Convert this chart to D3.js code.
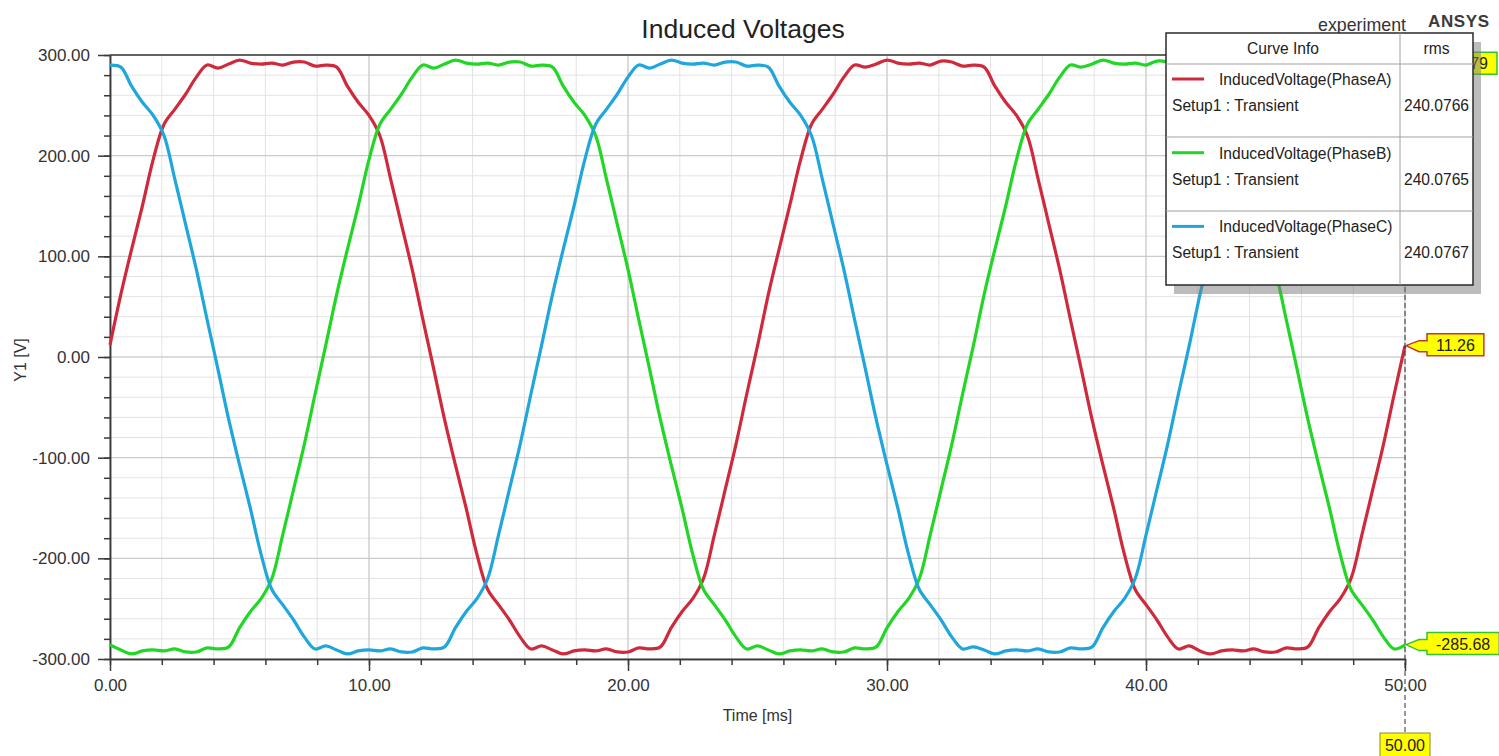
<!DOCTYPE html>
<html>
<head>
<meta charset="utf-8">
<script src="https://cdn.jsdelivr.net/npm/d3@7"></script>
<style>
  html, body { margin: 0; padding: 0; background: #fff; }
  svg { display: block; font-family: "Liberation Sans", Arial, sans-serif; }
</style>
</head>
<body>
<svg id="chart" width="1499" height="756"></svg>
<script>
// ---------- data ----------
const timeMs = d3.range(0, 121).map(i => i * 50 / 120); // sample instants, 0 .. 50 ms

const phaseA = [
  12, 62, 107, 150, 196, 231, 246, 261, 278, 290, 287, 291, 295, 292, 291, 292, 290, 293, 293, 289, 290, 288, 269, 253, 240, 220, 177, 132, 87, 37,
  -12, -62, -107, -150, -196, -231, -246, -261, -278, -290, -287, -291, -295, -292, -291, -292, -290, -293, -293, -289, -290, -288, -269, -253, -240, -220, -177, -132, -87, -37,
  11, 62, 107, 151, 196, 231, 246, 261, 278, 290, 288, 291, 295, 292, 291, 292, 290, 294, 293, 289, 290, 288, 269, 253, 240, 220, 177, 132, 87, 37,
  -12, -62, -107, -150, -196, -231, -246, -261, -278, -290, -287, -292, -295, -292, -291, -292, -290, -293, -293, -289, -290, -288, -269, -253, -240, -220, -177, -132, -87, -37,
  11
];
const phaseB = [
  -286, -291, -295, -292, -291, -292, -290, -293, -293, -289, -290, -288, -269, -253, -240, -220, -177, -132, -87, -37,
  12, 62, 107, 150, 196, 231, 246, 261, 278, 290, 287, 291, 295, 292, 291, 292, 290, 293, 293, 289, 290, 288, 269, 253, 240, 220, 177, 132, 87, 37,
  -12, -62, -107, -150, -196, -231, -246, -261, -278, -290,
  -287, -291, -295, -292, -291, -292, -290, -293, -293, -289, -290, -288, -269, -253, -240, -220, -177, -132, -87, -37,
  11, 62, 107, 150, 196, 231, 246, 261, 278, 290, 288, 291, 295, 292, 291, 292, 290, 294, 293, 289, 290, 288, 269, 253, 240, 220, 177, 132, 87, 37,
  -12, -62, -107, -150, -196, -231, -246, -261, -278, -290,
  -286
];
const phaseC = [
  290, 288, 269, 253, 240, 220, 177, 132, 87, 37,
  -12, -62, -107, -150, -196, -231, -246, -261, -278, -290, -287, -291, -295, -292, -291, -292, -290, -293, -293, -289, -290, -288, -269, -253, -240, -220, -177, -132, -87, -37,
  12, 62, 107, 150, 196, 231, 246, 261, 278, 290, 287, 291, 295, 292, 291, 292, 290, 293, 293, 289,
  290, 288, 269, 253, 240, 220, 177, 132, 87, 37,
  -12, -62, -107, -150, -196, -231, -246, -261, -278, -290, -288, -291, -295, -292, -291, -292, -290, -293, -293, -289, -290, -288, -269, -253, -240, -220, -177, -132, -87, -37,
  11, 62, 107, 150, 196, 231, 246, 261, 278, 290, 287, 291, 295, 292, 291, 292, 290, 294, 293, 289,
  290
];

const seriesNames = ["InducedVoltage(PhaseA)", "InducedVoltage(PhaseB)", "InducedVoltage(PhaseC)"];
const seriesRms = ["240.0766", "240.0765", "240.0767"];
const seriesSetup = "Setup1 : Transient";
const seriesColors = ["#cf2a3c", "#22d626", "#1fa6dc"];

const xMajorTicks = [0, 10, 20, 30, 40, 50];
const yMajorTicks = [-300, -200, -100, 0, 100, 200, 300];

const markerTime = 50.00;
const markerLabels = [
  { value: 11.26, text: "11.26", border: "#c0392b" },
  { value: -285.68, text: "-285.68", border: "#33c433" },
  { value: 290.79, text: "290.79", border: "#33c433" }
];

// ---------- layout ----------
const svg = d3.select("#chart");
const L = 110, R = 1405, T = 55, B = 659;
const x = d3.scaleLinear().domain([0, 50]).range([L, R]);
const y = d3.scaleLinear().domain([-300, 300]).range([B, T]);
const fmt2 = d3.format(".2f");
const fmt = v => fmt2(v).replace("\u2212", "-");

// grid
const grid = svg.append("g");
grid.selectAll(".vminor").data(d3.range(0, 50.001, 2)).join("line")
  .attr("x1", d => x(d)).attr("x2", d => x(d)).attr("y1", T).attr("y2", B)
  .attr("stroke", "#e3e3e3").attr("stroke-width", 1);
grid.selectAll(".hminor").data(d3.range(-300, 300.001, 20)).join("line")
  .attr("x1", L).attr("x2", R).attr("y1", d => y(d)).attr("y2", d => y(d))
  .attr("stroke", "#e3e3e3").attr("stroke-width", 1);
grid.append("g").selectAll("line").data(xMajorTicks).join("line")
  .attr("x1", d => x(d)).attr("x2", d => x(d)).attr("y1", T).attr("y2", B)
  .attr("stroke", "#c6c6c6").attr("stroke-width", 1);
grid.append("g").selectAll("line").data(yMajorTicks).join("line")
  .attr("x1", L).attr("x2", R).attr("y1", d => y(d)).attr("y2", d => y(d))
  .attr("stroke", "#c6c6c6").attr("stroke-width", 1);

// axes
const axisColor = "#3a3a3a";
function styleAxis(g) {
  g.selectAll("path, line").attr("stroke", axisColor).attr("stroke-width", 1.5);
  g.selectAll("text").attr("fill", "#333").attr("font-size", 17)
    .attr("font-family", "'Liberation Sans', Arial, sans-serif");
}
svg.append("g").attr("transform", `translate(${L},0)`)
  .call(d3.axisLeft(y).tickValues(d3.range(-300, 300.001, 20)).tickSize(6).tickFormat("").tickSizeOuter(0))
  .call(styleAxis);
svg.append("g").attr("transform", `translate(${L},0)`)
  .call(d3.axisLeft(y).tickValues(yMajorTicks).tickSize(12).tickPadding(8).tickFormat(fmt).tickSizeOuter(0))
  .call(styleAxis);
svg.append("g").attr("transform", `translate(0,${B})`)
  .call(d3.axisBottom(x).tickValues(d3.range(0, 50.001, 2)).tickSize(6).tickFormat("").tickSizeOuter(0))
  .call(styleAxis);
svg.append("g").attr("transform", `translate(0,${B})`)
  .call(d3.axisBottom(x).tickValues(xMajorTicks).tickSize(12).tickPadding(8).tickFormat(fmt).tickSizeOuter(0))
  .call(styleAxis);
// top frame
svg.append("line").attr("x1", L).attr("x2", R).attr("y1", T).attr("y2", T)
  .attr("stroke", axisColor).attr("stroke-width", 1.5);

// axis titles
svg.append("text").attr("x", (L + R) / 2).attr("y", 721).attr("text-anchor", "middle")
  .attr("font-size", 16).attr("fill", "#333").text("Time [ms]");
svg.append("text").attr("transform", "translate(26,360) rotate(-90)").attr("text-anchor", "middle")
  .attr("font-size", 16).attr("fill", "#333").text("Y1 [V]");

// title & corner texts
svg.append("text").attr("x", 743).attr("y", 38).attr("text-anchor", "middle")
  .attr("font-size", 26.5).attr("fill", "#222").text("Induced Voltages");
svg.append("text").attr("x", 1406).attr("y", 31).attr("text-anchor", "end")
  .attr("font-size", 17.8).attr("fill", "#333").text("experiment");
svg.append("text").attr("x", 1428).attr("y", 27)
  .attr("font-size", 17).attr("font-weight", "bold").attr("letter-spacing", 0.6).attr("fill", "#3a3a3a").text("ANSYS");

// curves
const allSeries = [phaseA, phaseB, phaseC];
const line = d3.line().x((d, i) => x(timeMs[i])).y(d => y(d)).curve(d3.curveCatmullRom.alpha(0.5));
svg.append("g").selectAll("path").data(allSeries).join("path")
  .attr("d", d => line(d)).attr("fill", "none")
  .attr("stroke", (d, i) => seriesColors[i]).attr("stroke-width", 3.2)
  .attr("stroke-linejoin", "round");

// marker line
svg.append("line").attr("x1", x(markerTime)).attr("x2", x(markerTime)).attr("y1", T).attr("y2", 733)
  .attr("stroke", "#333").attr("stroke-width", 1).attr("stroke-dasharray", "5,3");

// marker callouts
function callout(value, text, border, rightEdge) {
  const tipX = x(markerTime) + 1, tipY = y(value);
  const g = svg.append("g");
  const t = g.append("text").attr("font-size", 16).attr("fill", "#222").text(text);
  const w = t.node().getComputedTextLength();
  const bx = rightEdge ? rightEdge - w - 18 : 1427;
  const bw = w + 18, bh = 22, by = tipY - 12;
  const pts = [[tipX, tipY], [bx - 8, tipY - 5], [bx, tipY - 5], [bx, by], [bx + bw, by], [bx + bw, by + bh],
               [bx, by + bh], [bx, tipY + 6], [bx - 8, tipY + 6]];
  g.insert("path", "text").attr("d", "M" + pts.map(p => p.join(",")).join("L") + "Z")
    .attr("fill", "#ffff00").attr("stroke", border).attr("stroke-width", 1.5);
  t.attr("x", bx + 9).attr("y", by + 17);
}
callout(markerLabels[0].value, markerLabels[0].text, markerLabels[0].border);
callout(markerLabels[1].value, markerLabels[1].text, markerLabels[1].border);
callout(markerLabels[2].value, markerLabels[2].text, markerLabels[2].border, 1497);

// x marker label
const xm = svg.append("g");
const xmText = xm.append("text").attr("x", x(markerTime)).attr("y", 751).attr("text-anchor", "middle")
  .attr("font-size", 16).attr("fill", "#222").text(fmt(markerTime));
const xmw = xmText.node().getComputedTextLength();
xm.insert("rect", "text").attr("x", x(markerTime) - xmw / 2 - 5).attr("y", 733).attr("width", xmw + 10).attr("height", 26)
  .attr("fill", "#ffff00").attr("stroke", "#8a8a3a").attr("stroke-width", 1);

// legend
const lg = svg.append("g");
const lx = 1166, ly = 33, lw = 307, lh = 252, colX = 1400;
const fs = 15.6;
lg.append("rect").attr("x", lx + 8).attr("y", ly + 9).attr("width", lw).attr("height", lh)
  .attr("fill", "#7a7a7a").attr("fill-opacity", 0.5);
lg.append("rect").attr("x", lx).attr("y", ly).attr("width", lw).attr("height", lh)
  .attr("fill", "#fff").attr("stroke", "#2a2a2a").attr("stroke-width", 1.5);
lg.append("line").attr("x1", colX).attr("x2", colX).attr("y1", ly).attr("y2", ly + lh).attr("stroke", "#a0a0a0");
[64, 137, 211].forEach(yy => lg.append("line").attr("x1", lx).attr("x2", lx + lw).attr("y1", yy).attr("y2", yy).attr("stroke", "#a0a0a0"));
lg.append("text").attr("x", (lx + colX) / 2).attr("y", 54).attr("text-anchor", "middle").attr("font-size", fs).attr("fill", "#222").text("Curve Info");
lg.append("text").attr("x", (colX + lx + lw) / 2).attr("y", 54).attr("text-anchor", "middle").attr("font-size", fs).attr("fill", "#222").text("rms");
seriesNames.forEach((name, i) => {
  const oy = 64 + i * 73.7;
  lg.append("line").attr("x1", 1172).attr("x2", 1204).attr("y1", oy + 15).attr("y2", oy + 15)
    .attr("stroke", seriesColors[i]).attr("stroke-width", 3);
  lg.append("text").attr("x", 1219).attr("y", oy + 21).attr("font-size", fs).attr("fill", "#222").text(name);
  lg.append("text").attr("x", 1172).attr("y", oy + 47).attr("font-size", fs).attr("fill", "#222").text(seriesSetup);
  lg.append("text").attr("x", (colX + lx + lw) / 2).attr("y", oy + 47).attr("text-anchor", "middle").attr("font-size", fs).attr("fill", "#222").text(seriesRms[i]);
});
</script>
</body>
</html>
